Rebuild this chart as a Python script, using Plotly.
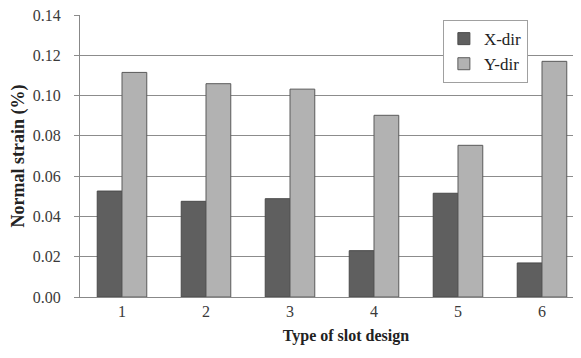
import plotly.graph_objects as go

categories = ["1", "2", "3", "4", "5", "6"]
x_dir = [0.0526, 0.0475, 0.0488, 0.0230, 0.0515, 0.0169]
y_dir = [0.1115, 0.1059, 0.1032, 0.0902, 0.0753, 0.1170]
y_ticks = [0.00, 0.02, 0.04, 0.06, 0.08, 0.10, 0.12, 0.14]

serif = "Times New Roman, Liberation Serif, serif"

fig = go.Figure()
fig.add_trace(go.Bar(x=categories, y=x_dir, name="X-dir", legendgroup="a",
                     marker=dict(color="#5f5f5f", line=dict(color="#4a4a4a", width=1))))
fig.add_trace(go.Bar(x=categories, y=y_dir, name="Y-dir", legendgroup="b",
                     marker=dict(color="#b2b2b2", line=dict(color="#5a5a5a", width=1))))

fig.update_layout(
    width=581, height=358,
    margin=dict(l=72, r=5, t=7, b=69),
    paper_bgcolor="white", plot_bgcolor="white",
    barmode="group", bargap=0.41, bargroupgap=0,
    font=dict(family=serif, size=16, color="#3a3a3a"),
    showlegend=True,
    legend=dict(x=0.72, y=0.982, xanchor="left", yanchor="top",
                bgcolor="white", bordercolor="#a0a0a0", borderwidth=1,
                font=dict(family=serif, size=17, color="#222222"),
                traceorder="grouped", tracegroupgap=0,
                itemwidth=30),
    xaxis=dict(showline=True, linecolor="#888888", linewidth=1, automargin=False,
               ticks="", tickfont=dict(family=serif, size=16, color="#3a3a3a"),
               title=dict(text="&nbsp;&nbsp;&nbsp;&nbsp;&nbsp;&nbsp;&nbsp;<b>Type of slot design</b>",
                          font=dict(family=serif, size=16, color="#222222"), standoff=10)),
    yaxis=dict(range=[0, 0.14], tickvals=y_ticks, tickformat=".2f", automargin=False,
               showline=True, linecolor="#888888", linewidth=1,
               showgrid=True, gridcolor="#8c8c8c", gridwidth=1,
               ticks="outside", ticklen=5, tickcolor="#8c8c8c",
               ticklabelstandoff=10, ticklabeloverflow="allow",
               tickfont=dict(family=serif, size=16, color="#3a3a3a"),
               zeroline=False,
               title=dict(text="<b>Normal strain (%)</b>",
                          font=dict(family=serif, size=18, color="#222222"), standoff=6)),
)

fig.write_html("out.html")
